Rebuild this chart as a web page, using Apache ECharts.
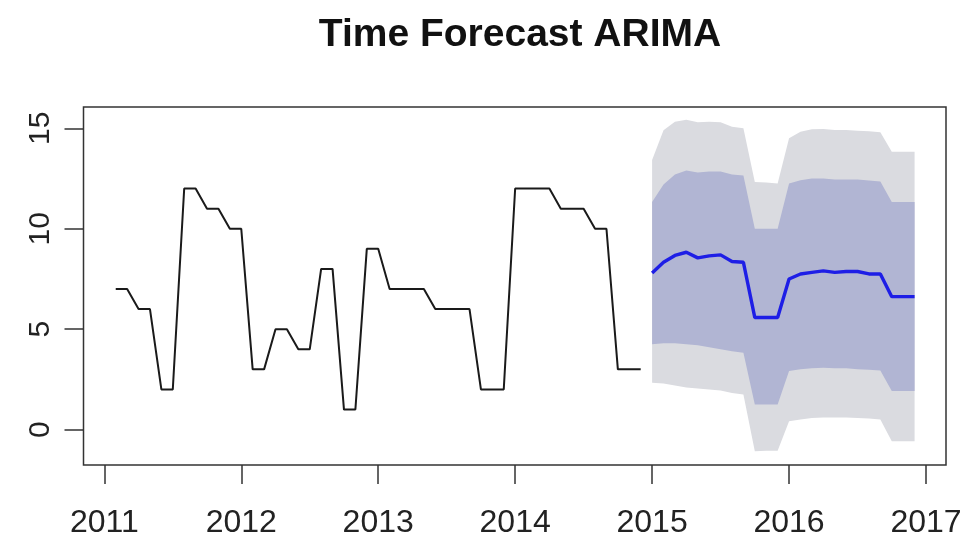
<!DOCTYPE html>
<html>
<head>
<meta charset="utf-8">
<script src="https://cdn.jsdelivr.net/npm/echarts@6/dist/echarts.min.js"></script>
<style>html,body{margin:0;padding:0;background:#fff}#c{width:964px;height:537px}</style>
</head>
<body>
<div id="c"></div>
<script>
// Historical monthly series, starting Feb 2011
var histStartYear = 2011, histStartMonth = 1; // month index 0 = Jan
var histValues = [7,7,6,6,2,2,12,12,11,11,10,
  10,3,3,5,5,4,4,8,8,1,1,9,
  9,7,7,7,7,6,6,6,6,2,2,2,
  12,12,12,12,11,11,11,10,10,3,3,3];
// Forecast Jan 2015 - Dec 2016
var fcStartYear = 2015, fcStartMonth = 0;
var fcMean = [7.8,8.33,8.67,8.83,8.55,8.65,8.7,8.37,8.33,5.58,5.58,5.58,
  7.5,7.75,7.83,7.9,7.83,7.87,7.87,7.75,7.75,6.62,6.62,6.62];
var fcLo80 = [4.25,4.3,4.3,4.25,4.2,4.1,4.0,3.9,3.83,1.25,1.25,1.25,
  2.92,3.0,3.05,3.08,3.05,3.05,3.0,2.98,2.95,1.92,1.92,1.92];
var fcHi80 = [11.33,12.2,12.7,12.9,12.8,12.85,12.85,12.7,12.65,10.0,10.0,10.0,
  12.25,12.42,12.5,12.5,12.45,12.45,12.45,12.4,12.35,11.33,11.33,11.33];
var fcLo95 = [2.33,2.3,2.2,2.1,2.05,2.0,1.95,1.83,1.75,-1.08,-1.05,-1.05,
  0.42,0.5,0.58,0.6,0.6,0.6,0.58,0.55,0.5,-0.58,-0.58,-0.58];
var fcHi95 = [13.42,14.9,15.33,15.42,15.3,15.33,15.3,15.08,15.0,12.33,12.3,12.25,
  14.5,14.83,14.95,14.97,14.92,14.92,14.88,14.85,14.8,13.83,13.83,13.83];
var xTicks = [2011,2012,2013,2014,2015,2016,2017];
var yTicks = [0,5,10,15];

function tOf(y, m, i){ return y + (m + i) / 12; }
function pairs(arr, y, m){ return arr.map(function(v,i){ return [tOf(y,m,i), v]; }); }

var LIGHT = '#dadbe0', DARK = '#b1b5d3';
var font = 'Liberation Sans, Arial, Helvetica, sans-serif';

// Band polygon series: draws the area between lo and hi through the chart's scales
function bandSeries(name, lo, hi, color){
  return {
    name: name, type: 'custom', silent: true, z: 1,
    data: [[fcStartYear, lo[0]]],
    renderItem: function(params, api){
      var pts = [], i;
      for (i = 0; i < hi.length; i++) pts.push(api.coord([tOf(fcStartYear, fcStartMonth, i), hi[i]]));
      for (i = lo.length - 1; i >= 0; i--) pts.push(api.coord([tOf(fcStartYear, fcStartMonth, i), lo[i]]));
      return {type: 'polygon', shape: {points: pts}, style: {fill: color, stroke: null}};
    }
  };
}

var chart = echarts.init(document.getElementById('c'));
chart.setOption({
  animation: false,
  backgroundColor: '#fff',
  title: {
    text: 'Time Forecast ARIMA', left: 515, top: 11, textAlign: 'center',
    textStyle: {fontFamily: font, fontWeight: 'bold', fontSize: 39, color: '#111'}
  },
  grid: {left: 83.5, right: 18, top: 107, bottom: 72, show: true, outerBoundsMode: 'none',
    containLabel: false,
    borderColor: '#333', borderWidth: 1.5, backgroundColor: 'transparent', z: 10},
  xAxis: {
    type: 'value', min: 2010.848, max: 2017.146,
    splitLine: {show: false}, axisLine: {show: false, onZero: false},
    axisTick: {show: true, length: 19, lineStyle: {color: '#333', width: 1.5}, customValues: xTicks},
    axisLabel: {customValues: xTicks, margin: 42, fontSize: 32, fontFamily: font, color: '#222',
      formatter: function(v){ return String(Math.round(v)); }}
  },
  yAxis: {
    type: 'value', min: -1.76, max: 16.06,
    splitLine: {show: false}, axisLine: {show: false, onZero: false},
    axisTick: {show: true, length: 19, lineStyle: {color: '#333', width: 1.5}, customValues: yTicks},
    axisLabel: {customValues: yTicks, rotate: 90, margin: 28, fontSize: 30, fontFamily: font, color: '#222',
      formatter: function(v){ return String(Math.round(v)); }}
  },
  series: [
    bandSeries('95%', fcLo95, fcHi95, LIGHT),
    bandSeries('80%', fcLo80, fcHi80, DARK),
    {name: 'history', type: 'line', data: pairs(histValues, histStartYear, histStartMonth),
      symbol: 'none', lineStyle: {color: '#1a1a1a', width: 2}, z: 3},
    {name: 'forecast', type: 'line', data: pairs(fcMean, fcStartYear, fcStartMonth),
      symbol: 'none', lineStyle: {color: '#1e1ee6', width: 3.4}, z: 4}
  ]
});
</script>
</body>
</html>
